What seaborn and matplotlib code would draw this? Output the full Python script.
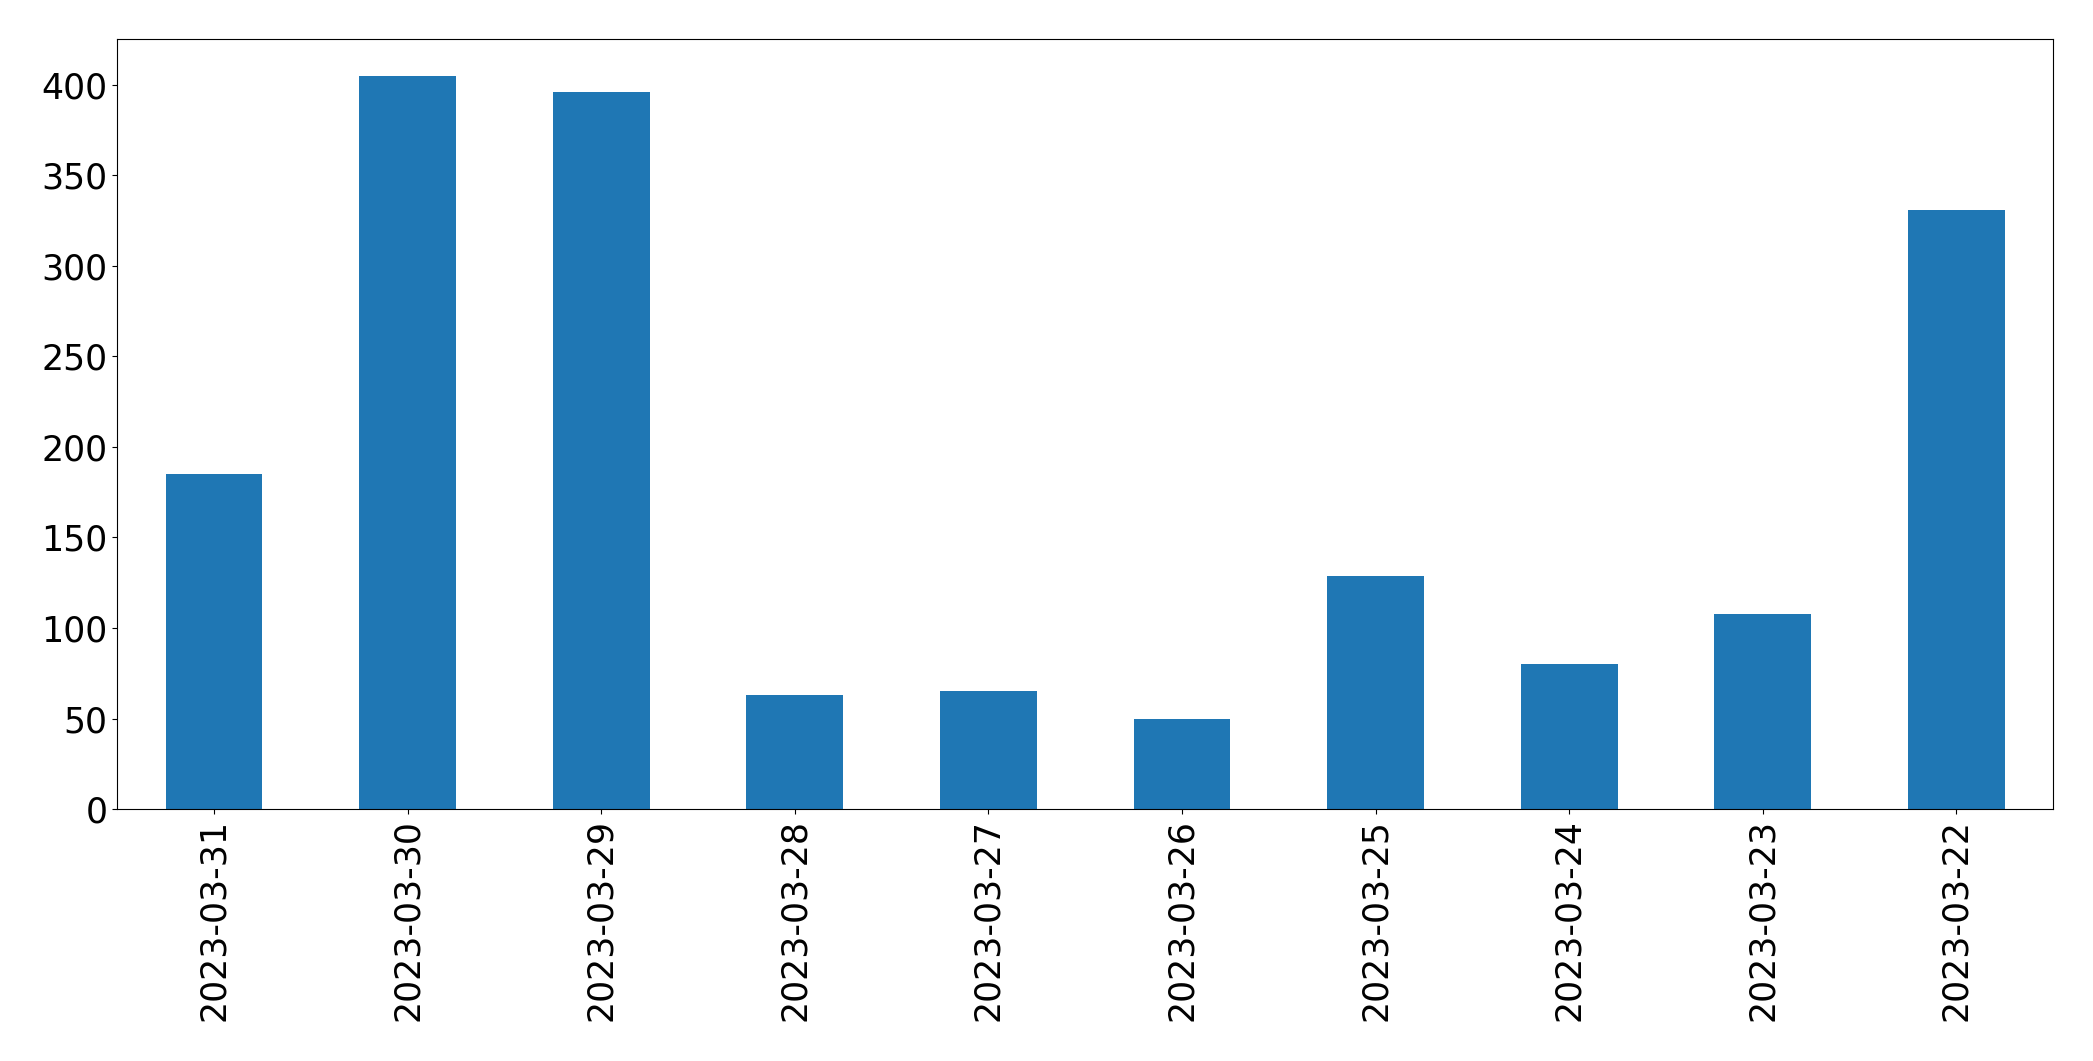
import pandas as pd
import matplotlib
matplotlib.use('Agg')
import matplotlib.pyplot as plt
import seaborn as sns

# Daily counts, newest first (as in the reference)
dates = ['2023-03-31', '2023-03-30', '2023-03-29', '2023-03-28', '2023-03-27',
         '2023-03-26', '2023-03-25', '2023-03-24', '2023-03-23', '2023-03-22']
counts = [185, 405, 396, 63, 65, 50, 129, 80, 108, 331]

df = pd.DataFrame({'date': dates, 'count': counts})

fig, ax = plt.subplots(figsize=(20.93, 10.61), dpi=100)
sns.barplot(data=df, x='date', y='count', order=dates, color='#1f77b4',
            saturation=1, width=0.5, ax=ax)
ax.set_xlim(-0.5, len(dates) - 0.5)
ax.set_xlabel('')
ax.set_ylabel('')
ax.tick_params(axis='x', labelrotation=90, labelsize=25)
ax.tick_params(axis='y', labelsize=25)

plt.subplots_adjust(left=0.056, right=0.981, top=0.963, bottom=0.2375)
plt.savefig('out.png', dpi=100)
plt.close()
